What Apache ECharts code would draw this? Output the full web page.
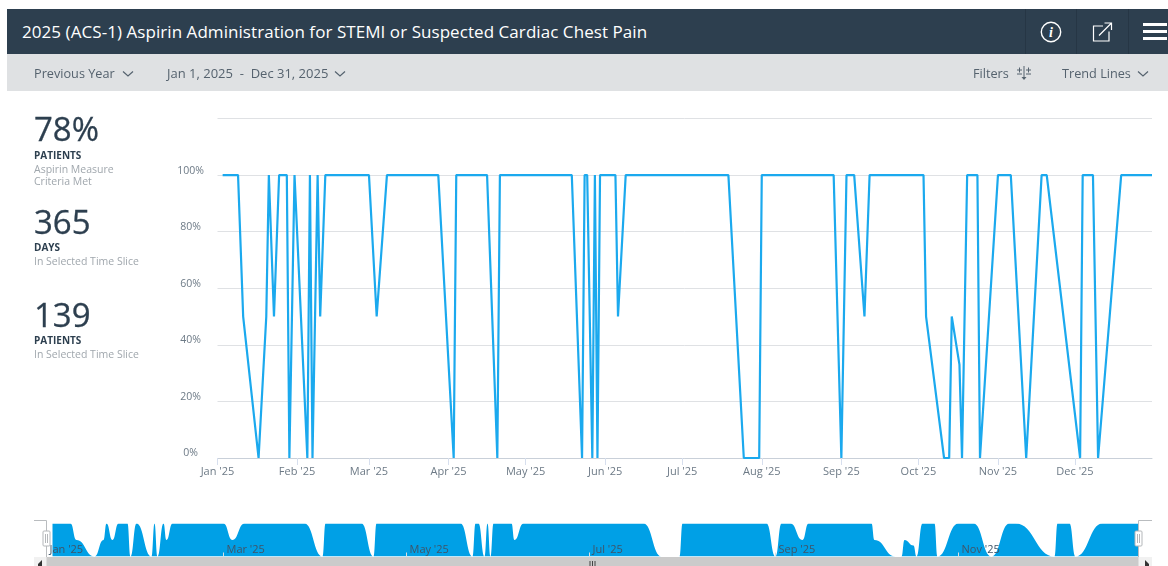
<!DOCTYPE html>
<html>
<head>
<meta charset="utf-8">
<title>Aspirin Administration</title>
<script src="https://cdn.jsdelivr.net/npm/echarts@6/dist/echarts.min.js"></script>
<style>
  html, body { margin: 0; padding: 0; background: #fff; overflow: hidden; }
  body { width: 1168px; height: 566px; position: relative; font-family: "Open Sans", sans-serif; }
  #chart { position: absolute; left: 0; top: 0; width: 1168px; height: 566px; }
  .bar { position: absolute; left: 7px; right: 0; }
  #title { top: 9px; height: 45px; background: #2d3f4f; color: #fff; font-size: 17px; line-height: 46px; padding-left: 15px; letter-spacing: 0.06px; }
  #tools { top: 54px; height: 37px; background: #dfe1e3; color: #55626e; font-size: 12.7px; line-height: 38px; }
  #tools span { position: absolute; top: 0; white-space: nowrap; }
  #tools svg { position: absolute; }
  .sep { position: absolute; top: 9px; width: 1px; height: 45px; background: #263645; }
  .icon { position: absolute; }
  .stat { position: absolute; left: 34px; color: #2d3f4f; }
  .stat b { display: block; font-weight: 400; font-size: 33px; line-height: 36px; -webkit-text-stroke: 0.3px #2d3f4f; }
  .stat i { display: block; font-style: normal; font-weight: 700; font-size: 10px; line-height: 13px; margin-top: 1px; }
  .stat em { display: block; font-style: normal; color: #a0a7ad; font-size: 10.5px; line-height: 12px; margin-top: 1px; }
</style>
</head>
<body>
<div id="chart"></div>

<div id="title" class="bar">2025 (ACS-1) Aspirin Administration for STEMI or Suspected Cardiac Chest Pain</div>
<div class="sep" style="left:1025px"></div>
<div class="sep" style="left:1076px"></div>
<div class="sep" style="left:1128px"></div>
<svg class="icon" style="left:1040px;top:21px" width="22" height="22" viewBox="0 0 22 22" fill="none" stroke="#fff">
  <circle cx="11" cy="11" r="9.7" stroke-width="1.4"/>
  <text x="11" y="16" font-family="Liberation Serif" font-style="italic" font-weight="700" font-size="14" fill="#fff" stroke="none" text-anchor="middle">i</text>
</svg>
<svg class="icon" style="left:1092px;top:21px" width="22" height="22" viewBox="0 0 22 22" fill="none" stroke="#fff" stroke-width="1.2">
  <path d="M11 5H1.5V20H17V10.5"/>
  <path d="M7 14.5L19.5 2M12.5 2H19.5V9"/>
</svg>
<svg class="icon" style="left:1142px;top:23px" width="26" height="18" viewBox="0 0 26 18" fill="#fff">
  <rect x="1" y="0" width="24" height="3"/><rect x="1" y="7" width="24" height="3"/><rect x="1" y="14" width="24" height="3"/>
</svg>

<div id="tools" class="bar">
  <span style="left:27px">Previous Year</span>
  <svg style="left:115px;top:16px" width="12" height="8" fill="none" stroke="#55626e" stroke-width="1.2"><path d="M1 1.5L6 6L11 1.5"/></svg>
  <span style="left:160px;font-size:13px">Jan 1, 2025&nbsp; -&nbsp; Dec 31, 2025</span>
  <svg style="left:327px;top:16px" width="12" height="8" fill="none" stroke="#55626e" stroke-width="1.2"><path d="M1 1.5L6 6L11 1.5"/></svg>
  <span style="left:966px">Filters</span>
  <svg style="left:1009px;top:11px" width="16" height="17" fill="none" stroke="#55626e" stroke-width="1"><path d="M1 5H6M3.5 2.500V7.500M10 5H15M12.500 2.500V7.500M8 1V14M1 9H6M10 9H15"/><path d="M5.500 12L8 15L10.500 12Z" fill="#55626e" stroke="none"/></svg>
  <span style="left:1055px">Trend Lines</span>
  <svg style="left:1130px;top:16px" width="12" height="8" fill="none" stroke="#55626e" stroke-width="1.2"><path d="M1 1.5L6 6L11 1.5"/></svg>
</div>

<div class="stat" style="top:111px"><b>78%</b><i style="margin-top:2px">PATIENTS</i><em>Aspirin Measure<br>Criteria Met</em></div>
<div class="stat" style="top:204px"><b>365</b><i>DAYS</i><em>In Selected Time Slice</em></div>
<div class="stat" style="top:297px"><b>139</b><i>PATIENTS</i><em>In Selected Time Slice</em></div>

<script>
const dates = [
  "2025-01-03", "2025-01-09", "2025-01-11", "2025-01-17", "2025-01-20", "2025-01-21", "2025-01-23",
  "2025-01-25", "2025-01-28", "2025-01-29", "2025-01-31", "2025-02-05", "2025-02-06", "2025-02-07",
  "2025-02-09", "2025-02-10", "2025-02-12", "2025-03-01", "2025-03-04", "2025-03-08", "2025-03-28",
  "2025-04-03", "2025-04-04", "2025-04-16", "2025-04-20", "2025-04-21", "2025-05-19", "2025-05-23",
  "2025-05-24", "2025-05-25", "2025-05-27", "2025-05-28", "2025-05-29", "2025-05-30", "2025-06-05",
  "2025-06-06", "2025-06-09", "2025-07-19", "2025-07-25", "2025-07-31", "2025-08-01", "2025-08-29",
  "2025-09-01", "2025-09-03", "2025-09-06", "2025-09-10", "2025-09-12", "2025-10-03", "2025-10-04",
  "2025-10-11", "2025-10-13", "2025-10-14", "2025-10-17", "2025-10-18", "2025-10-20", "2025-10-24",
  "2025-10-25", "2025-11-01", "2025-11-06", "2025-11-12", "2025-11-18", "2025-11-20", "2025-12-03",
  "2025-12-04", "2025-12-08", "2025-12-10", "2025-12-19", "2025-12-31"
];
const percents = [
  100, 100, 50, 0, 50, 100, 50,
  100, 100, 0, 100, 0, 100, 0,
  100, 50, 100, 100, 50, 100, 100,
  0, 100, 100, 0, 100, 100, 0,
  100, 100, 0, 100, 0, 100, 100,
  50, 100, 100, 0, 0, 100, 100,
  0, 100, 100, 50, 100, 100, 50,
  0, 0, 50, 33, 0, 100, 100,
  0, 100, 100, 0, 100, 100, 0,
  100, 100, 0, 100, 100
];
const monthTicks = [
  "2025-01-01", "2025-02-01", "2025-03-01", "2025-04-01", "2025-05-01", "2025-06-01",
  "2025-07-01", "2025-08-01", "2025-09-01", "2025-10-01", "2025-11-01", "2025-12-01"
];
const monthLabels = [
  "Jan '25", "Feb '25", "Mar '25", "Apr '25", "May '25", "Jun '25",
  "Jul '25", "Aug '25", "Sep '25", "Oct '25", "Nov '25", "Dec '25"
];
const navTicks = ["2025-01-01", "2025-03-01", "2025-05-01", "2025-07-01", "2025-09-01", "2025-11-01"];
const topTick = 120;

const rangeStart = Date.parse("2025-01-01");
const rangeEnd = Date.parse("2025-12-31");
const points = dates.map((d, i) => [Date.parse(d), percents[i]]);
const tickTimes = monthTicks.map(d => Date.parse(d));
const navTimes = navTicks.map(d => Date.parse(d));
const monthText = value => monthLabels[tickTimes.indexOf(value)];

const gridGrey = "#dfe1e4";
const textGrey = "#6d7a86";
const bracketGrey = "#b9bcbf";

// navigator handle, drawn as a small white box with a grip
const navHandle = x => ({
  type: "group",
  x: x,
  y: 531,
  z: 8,
  children: [
    { type: "rect", shape: { x: -3.5, y: 0, width: 7, height: 15, r: 1 }, style: { fill: "#fff", stroke: "#b4b7ba", lineWidth: 1 }, z: 8 },
    { type: "rect", shape: { x: -1.5, y: 3, width: 1, height: 9 }, style: { fill: "#b4b7ba" }, z: 9 },
    { type: "rect", shape: { x: 0.5, y: 3, width: 1, height: 9 }, style: { fill: "#b4b7ba" }, z: 9 }
  ]
});

const chart = echarts.init(document.getElementById("chart"));
chart.setOption({
  animation: false,
  textStyle: { fontFamily: "Open Sans" },
  grid: [
    { left: 217.5, right: 16, top: 118.5, bottom: 108 },
    { left: 46.5, right: 29.5, top: 523.5, bottom: 9.5 }
  ],
  xAxis: [
    {
      // numeric timestamps, the month ticks are not evenly spaced
      type: "value",
      gridIndex: 0,
      min: rangeStart,
      max: rangeEnd,
      axisLine: { lineStyle: { color: "#c9d0d9", width: 1 } },
      axisTick: { customValues: tickTimes, length: 7, lineStyle: { color: "#d7dfee" } },
      axisLabel: {
        customValues: tickTimes,
        formatter: monthText,
        color: textGrey,
        fontSize: 11,
        margin: 8,
        hideOverlap: false
      },
      splitLine: { show: false }
    },
    {
      type: "value",
      gridIndex: 1,
      position: "top",
      min: rangeStart,
      max: rangeEnd,
      axisLine: { show: false },
      axisTick: {
        customValues: navTimes,
        length: 4,
        lineStyle: { color: "#dcdee0" }
      },
      axisLabel: {
        customValues: navTimes,
        formatter: monthText,
        inside: true,
        color: "#3f5468",
        fontSize: 11,
        align: "left",
        margin: 21,
        padding: [0, 0, 0, 3],
        hideOverlap: false
      },
      splitLine: { show: false },
      z: 5
    }
  ],
  yAxis: [
    {
      type: "value",
      gridIndex: 0,
      min: 0,
      max: topTick,
      interval: 20,
      axisLine: { show: false },
      axisTick: { show: false },
      axisLabel: {
        formatter: value => (value === topTick ? "" : value + "%"),
        color: textGrey,
        fontSize: 10.5,
        align: "center",
        verticalAlign: "bottom",
        lineHeight: 9,
        margin: 27
      },
      splitLine: { lineStyle: { color: gridGrey, width: 1 } }
    },
    {
      type: "value",
      gridIndex: 1,
      min: 0,
      max: 100,
      show: false
    }
  ],
  series: [
    {
      name: "Aspirin Measure Criteria Met",
      type: "line",
      xAxisIndex: 0,
      yAxisIndex: 0,
      data: points,
      symbol: "none",
      lineStyle: { color: "#1ba9ee", width: 2.2 },
      z: 3
    },
    {
      name: "Navigator",
      type: "line",
      xAxisIndex: 1,
      yAxisIndex: 1,
      data: points,
      symbol: "none",
      smooth: 0.5,
      smoothMonotone: "x",
      lineStyle: { width: 0 },
      areaStyle: { color: "#00a0e6", opacity: 1 },
      z: 2
    }
  ],
  graphic: [
    // navigator brackets and the scrollbar under it
    { type: "polyline", shape: { points: [[34, 520.5], [46.5, 520.5], [46.5, 557]] }, style: { stroke: bracketGrey, fill: null, lineWidth: 1 }, z: 6 },
    { type: "polyline", shape: { points: [[1152, 520.5], [1138.5, 520.5], [1138.5, 557]] }, style: { stroke: bracketGrey, fill: null, lineWidth: 1 }, z: 6 },
    { type: "rect", shape: { x: 34, y: 557, width: 1118, height: 9 }, style: { fill: "#f1f1f1" }, z: 6 },
    { type: "rect", shape: { x: 46.5, y: 557, width: 1092, height: 9 }, style: { fill: "#cbcbcb" }, z: 6 },
    { type: "polygon", shape: { points: [[38, 564], [42, 560], [42, 566], [38, 566]] }, style: { fill: "#333" }, z: 7 },
    { type: "polygon", shape: { points: [[1145, 560], [1149, 564], [1149, 566], [1145, 566]] }, style: { fill: "#333" }, z: 7 },
    { type: "rect", shape: { x: 589.5, y: 561, width: 1, height: 5 }, style: { fill: "#444" }, z: 7 },
    { type: "rect", shape: { x: 592, y: 561, width: 1, height: 5 }, style: { fill: "#444" }, z: 7 },
    { type: "rect", shape: { x: 594.5, y: 561, width: 1, height: 5 }, style: { fill: "#444" }, z: 7 },
    navHandle(46.5),
    navHandle(1138.5)
  ]
});
</script>
</body>
</html>
